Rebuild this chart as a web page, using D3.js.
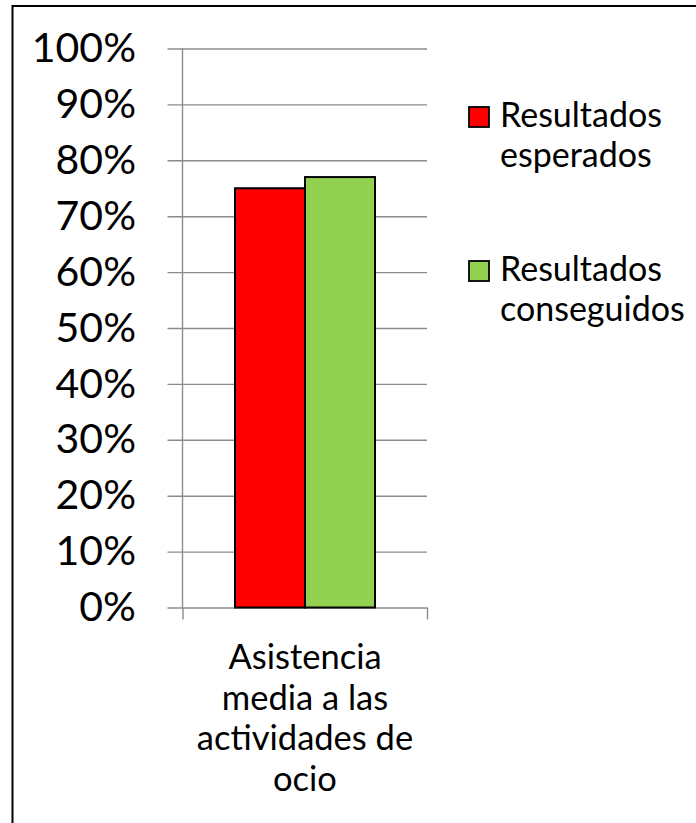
<!DOCTYPE html>
<html>
<head>
<meta charset="utf-8">
<script src="https://cdn.jsdelivr.net/npm/d3@7"></script>
<style>
  html, body { margin: 0; padding: 0; background: #fff; }
  svg { display: block; }
  text { font-family: Lato, "Open Sans", sans-serif; fill: #000; }
</style>
</head>
<body>
<svg id="chart" width="696" height="823"></svg>
<script>
// ---- data ----
const categories = ["Asistencia\nmedia a las\nactividades de\nocio"];
const seriesNames = ["Resultados\nesperados", "Resultados\nconseguidos"];
const seriesColors = ["#ff0000", "#92d050"];
const expectedValues = [0.75];
const achievedValues = [0.77];
const tickValues = [0, 0.1, 0.2, 0.3, 0.4, 0.5, 0.6, 0.7, 0.8, 0.9, 1.0];

const seriesValues = [expectedValues, achievedValues];

// ---- layout ----
const svg = d3.select("#chart");
const plot = { left: 183, right: 427, top: 48.5, bottom: 607.5 };

// outer border
svg.append("rect")
  .attr("x", 12.5).attr("y", 6)
  .attr("width", 700).attr("height", 830)
  .attr("fill", "none").attr("stroke", "#000").attr("stroke-width", 2);

const y = d3.scaleLinear().domain([0, 1]).range([plot.bottom, plot.top]);
const x0 = d3.scaleBand().domain(categories).range([plot.left, plot.right])
  .paddingInner(0).paddingOuter(0.3714);
const x1 = d3.scaleBand().domain(d3.range(seriesNames.length)).range([0, x0.bandwidth()]);

// gridlines + outer tick marks
const grid = svg.append("g")
  .attr("transform", `translate(${plot.left - 15.5},0)`)
  .call(d3.axisRight(y).tickValues(tickValues).tickSize(plot.right - plot.left + 15.5).tickFormat(""));
grid.select(".domain").remove();
grid.selectAll(".tick line").attr("stroke", "#8c8c8c").attr("stroke-width", 1.4);

// y axis labels
const yAxis = svg.append("g")
  .attr("transform", `translate(${plot.left},0)`)
  .call(d3.axisLeft(y).tickValues(tickValues).tickSize(0).tickPadding(47)
    .tickFormat(d3.format(".0%")));
yAxis.select(".domain").remove();
yAxis.selectAll(".tick text")
  .style("font-family", "Lato, sans-serif")
  .attr("font-size", 41).attr("fill", "#000");

// vertical axis line
svg.append("line")
  .attr("x1", plot.left - 0.5).attr("x2", plot.left - 0.5)
  .attr("y1", y(1)).attr("y2", y(0))
  .attr("stroke", "#8c8c8c").attr("stroke-width", 1.4);

// bottom axis ticks (between categories)
const xEdge = d3.scaleLinear().domain([0, 1]).range([plot.left - 0.5, plot.right]);
const xAxis = svg.append("g")
  .attr("transform", `translate(0,${plot.bottom})`)
  .call(d3.axisBottom(xEdge).tickValues([0, 1]).tickSize(12).tickFormat(""));
xAxis.select(".domain").remove();
xAxis.selectAll(".tick line").attr("stroke", "#8c8c8c").attr("stroke-width", 1.4);

// bars
const groups = svg.append("g").selectAll("g")
  .data(categories).join("g")
  .attr("transform", d => `translate(${x0(d)},0)`);
groups.selectAll("rect")
  .data((d, ci) => seriesValues.map((vals, si) => ({ si, v: vals[ci] })))
  .join("rect")
  .attr("x", d => x1(d.si))
  .attr("width", x1.bandwidth())
  .attr("y", d => y(d.v))
  .attr("height", d => y(0) - y(d.v))
  .attr("fill", d => seriesColors[d.si])
  .attr("stroke", "#000").attr("stroke-width", 2);

// category labels
categories.forEach(c => {
  const lines = c.split("\n");
  const t = svg.append("text")
    .attr("x", x0(c) + x0.bandwidth() / 2)
    .attr("y", 669)
    .attr("text-anchor", "middle")
    .attr("font-size", 34.5);
  lines.forEach((ln, i) => {
    t.append("tspan").attr("x", x0(c) + x0.bandwidth() / 2)
      .attr("dy", i === 0 ? 0 : 40.5).text(ln);
  });
});

// legend
const legend = svg.append("g").attr("transform", "translate(469,107)");
seriesNames.forEach((name, i) => {
  const g = legend.append("g").attr("transform", `translate(0,${i * 154})`);
  g.append("rect").attr("x", 0).attr("y", 0).attr("width", 20).attr("height", 20)
    .attr("fill", seriesColors[i]).attr("stroke", "#000").attr("stroke-width", 1.8);
  const t = g.append("text").attr("x", 31).attr("y", 20).attr("font-size", 34);
  name.split("\n").forEach((ln, j) => {
    t.append("tspan").attr("x", 31).attr("dy", j === 0 ? 0 : 39.5).text(ln);
  });
});
</script>
</body>
</html>
